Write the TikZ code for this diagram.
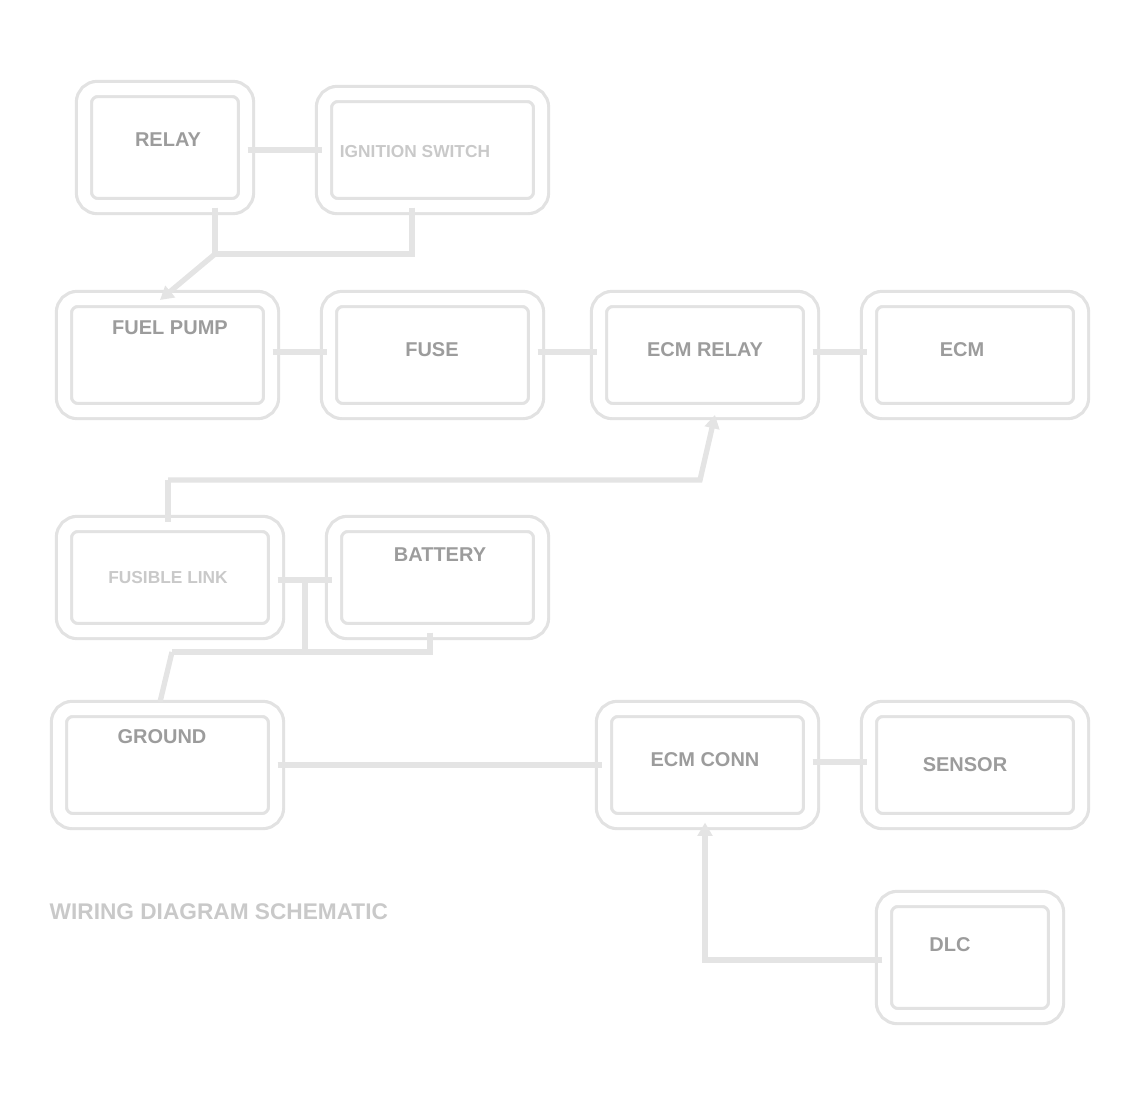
\documentclass[tikz,border=0pt]{standalone}
\usepackage{fontspec}
\setmainfont{Liberation Sans}
\usetikzlibrary{fit,arrows.meta}
\definecolor{boxln}{HTML}{E2E2E2}
\definecolor{conln}{HTML}{E4E4E4}
\definecolor{txdark}{HTML}{9C9C9C}
\definecolor{txlight}{HTML}{C9C9C9}
\tikzset{
  box/.style={draw=boxln, line width=2.4pt, double=white, double distance=9pt,
    rounded corners=10pt, inner sep=0pt},
  lbl/.style={font=\bfseries\fontsize{15}{17}\selectfont, text=txdark, align=center},
  lbllight/.style={font=\bfseries\fontsize{13}{15}\selectfont, text=txlight, align=center},
  con/.style={draw=conln, line width=4pt},
  conarr/.style={con, -{Triangle[length=10pt,width=11pt]}},
}
\begin{document}
\begin{tikzpicture}[x=0.75pt,y=-0.75pt]
\useasboundingbox (0,0) rectangle (1127,1111);
% row 1
\node[box, fit={(84,89)(246,206)}] (A) {};
\node[box, fit={(324,94)(541,206)}] (B) {};
% row 2
\node[box, fit={(64,299)(271,411)}] (C) {};
\node[box, fit={(329,299)(536,411)}] (D) {};
\node[box, fit={(599,299)(811,411)}] (E) {};
\node[box, fit={(869,299)(1081,411)}] (F) {};
% row 3
\node[box, fit={(64,524)(276,631)}] (G) {};
\node[box, fit={(334,524)(541,631)}] (H) {};
% row 4
\node[box, fit={(59,709)(276,821)}] (I) {};
\node[box, fit={(604,709)(811,821)}] (J) {};
\node[box, fit={(869,709)(1081,821)}] (K) {};
\node[box, fit={(884,899)(1056,1016)}] (L) {};
% labels
\node[lbl] (tA) at (168,140) {RELAY};
\node[lbllight] (tB) at (415,152) {IGNITION SWITCH};
\node[lbl] (tC) at (170,328) {FUEL PUMP};
\node[lbl] (tD) at (432,350) {FUSE};
\node[lbl] (tE) at (705,350) {ECM RELAY};
\node[lbl] (tF) at (962,350) {ECM};
\node[lbllight] (tG) at (168,578) {FUSIBLE LINK};
\node[lbl] (tH) at (440,555) {BATTERY};
\node[lbl] (tI) at (162,737) {GROUND};
\node[lbl] (tJ) at (705,760) {ECM CONN};
\node[lbl] (tK) at (965,765) {SENSOR};
\node[lbl] (tL) at (950,945) {DLC};
\node[lbllight, anchor=west, font=\bfseries\fontsize{17}{19}\selectfont] (cap) at (45,912) {WIRING DIAGRAM SCHEMATIC};
% junction coordinates
\coordinate (j1) at (215,254);
\coordinate (j2) at (412,254);
\coordinate (j3) at (700,480);
\coordinate (j4) at (168,480);
\coordinate (j5) at (430,652);
\coordinate (j6) at (172,652);
\coordinate (j7) at (305,652);
\coordinate (j8) at (305,580);
\coordinate (j9) at (705,960);
% connectors
\draw[con] (A.east |- 0,150) -- (B.west |- 0,150);
\draw[con] (A.south -| j1) -- (j1);
\draw[con] (B.south -| j2) -- (j2) -- (j1);
\draw[conarr] (j1) -- (160,300);
\draw[con] (C.east |- 0,352) -- (D.west |- 0,352);
\draw[con] (D.east |- 0,352) -- (E.west |- 0,352);
\draw[con] (E.east |- 0,352) -- (F.west |- 0,352);
\draw[conarr] (j4) -- (j3) -- (715,415);
\draw[con] (j4) -- (G.north -| j4);
\draw[con] (G.east |- 0,580) -- (H.west |- 0,580);
\draw[con] (j8) -- (j7);
\draw[con] (H.south -| j5) -- (j5) -- (j6);
\draw[con] (j6) -- (160,702);
\draw[con] (I.east |- 0,765) -- (J.west |- 0,765);
\draw[con] (J.east |- 0,762) -- (K.west |- 0,762);
\draw[conarr] (L.west |- j9) -- (j9) -- (J.south -| j9);
\end{tikzpicture}
\end{document}
